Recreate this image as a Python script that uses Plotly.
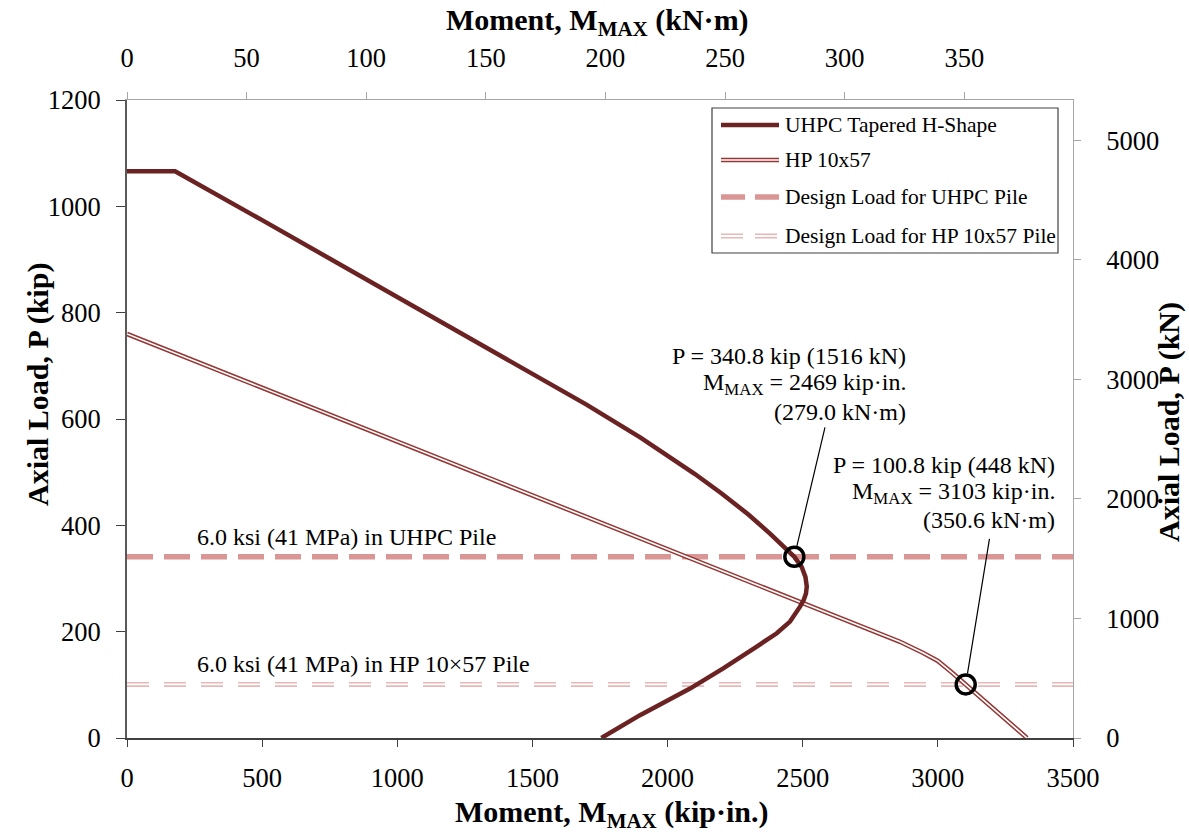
import plotly.graph_objects as go

# ---------------- data ----------------
KIPIN_TO_KNM = 0.1129848
KIP_TO_KN = 4.448222

uhpc_M = [0, 178, 500, 1000, 1500, 1700, 1900, 2000, 2100, 2200, 2300, 2380, 2430, 2469, 2496, 2510, 2515, 2512, 2504, 2490, 2453, 2404, 2330, 2206, 2083, 1898, 1755]
uhpc_P = [1066, 1066, 974, 830, 685, 627, 565, 532, 497, 460, 420, 384, 360, 340.8, 322, 303, 285, 272, 260, 247, 219, 197, 172, 131, 93, 43, 0]

hp_M = [0, 2860, 2946, 3000, 3050, 3103, 3230, 3330]
hp_P = [760, 181, 160, 145, 124, 100.8, 44, 0]

design_x = [0, 3500]
design_uhpc = 340.8
design_hp = 100.8

pts_M = [2469, 3103]
pts_P = [340.8, 100.8]

x_ticks = [0, 500, 1000, 1500, 2000, 2500, 3000, 3500]
y_ticks = [0, 200, 400, 600, 800, 1000, 1200]
x2_ticks = [0, 50, 100, 150, 200, 250, 300, 350]
y2_ticks = [0, 1000, 2000, 3000, 4000, 5000]

legend_names = ["UHPC Tapered H-Shape", "HP 10x57", "Design Load for UHPC Pile", "Design Load for HP 10x57 Pile"]
callout1 = ["P = 340.8 kip (1516 kN)", "M<sub>MAX</sub> = 2469 kip·in.", "(279.0 kN·m)"]
callout2 = ["P = 100.8 kip (448 kN)", "M<sub>MAX</sub> = 3103 kip·in.", "(350.6 kN·m)"]

# ---------------- styles ----------------
FONT = "Liberation Serif, Times New Roman, serif"
C_UHPC = "#6B2222"
C_HP = "#953735"
C_DU = "#D99694"
C_DH = "#E6B9B8"

W, H = 1189, 834
L, R, T, B = 127, 116, 100, 96
PW, PH = W - L - R, H - T - B


def px(xp):
    return (xp - L) / PW


def py(yp):
    return (H - B - yp) / PH


fig = go.Figure()

# design load lines
fig.add_trace(go.Scatter(x=design_x, y=[design_hp] * 2, mode="lines",
                         line=dict(color=C_DH, width=5, dash="22px,15px"), hoverinfo="skip", showlegend=False))
fig.add_trace(go.Scatter(x=design_x, y=[design_hp] * 2, mode="lines",
                         line=dict(color="white", width=1.8, dash="22px,15px"), hoverinfo="skip", showlegend=False))
fig.add_trace(go.Scatter(x=design_x, y=[design_uhpc] * 2, mode="lines",
                         line=dict(color=C_DU, width=5.5, dash="26px,11px"), showlegend=False))

# HP 10x57 double line
fig.add_trace(go.Scatter(x=hp_M, y=hp_P, mode="lines",
                         line=dict(color=C_HP, width=4.6), showlegend=False))
fig.add_trace(go.Scatter(x=hp_M, y=hp_P, mode="lines",
                         line=dict(color="white", width=1.6), hoverinfo="skip", showlegend=False))

# UHPC curve
fig.add_trace(go.Scatter(x=uhpc_M, y=uhpc_P, mode="lines",
                         line=dict(color=C_UHPC, width=4.5), showlegend=False))

# marked points
fig.add_trace(go.Scatter(x=pts_M, y=pts_P, mode="markers",
                         marker=dict(symbol="circle-open", size=19, color="black", line=dict(width=3.5, color="black")),
                         showlegend=False))

# hidden trace for the SI axes
fig.add_trace(go.Scatter(x=[0, 3500 * KIPIN_TO_KNM], y=[0, 1200 * KIP_TO_KN], xaxis="x2", yaxis="y2",
                         mode="markers", marker=dict(opacity=0), hoverinfo="skip", showlegend=False))

tickfont = dict(family=FONT, size=26.5, color="black")

fig.update_layout(
    width=W, height=H,
    margin=dict(l=L, r=R, t=T, b=B),
    paper_bgcolor="white", plot_bgcolor="white",
    showlegend=False,
    xaxis=dict(range=[0, 3500], tickvals=x_ticks, showgrid=False, zeroline=False,
               showline=True, linecolor="#404040", linewidth=1.5, ticks="outside", ticklen=7,
               tickcolor="#404040", tickfont=tickfont, ticklabelstandoff=8),
    yaxis=dict(range=[0, 1200], tickvals=y_ticks, showgrid=False, zeroline=False,
               showline=True, linecolor="#595959", linewidth=2, ticks="outside", ticklen=9,
               tickcolor="#404040", tickfont=tickfont, ticklabelstandoff=10),
    xaxis2=dict(range=[0, 3500 * KIPIN_TO_KNM], tickvals=x2_ticks, overlaying="x", side="top", anchor="y",
                showgrid=False, zeroline=False, showline=True, linecolor="#A6A6A6", linewidth=1,
                ticks="outside", ticklen=7, tickcolor="#A6A6A6", tickfont=tickfont, ticklabelstandoff=14),
    yaxis2=dict(range=[0, 1200 * KIP_TO_KN], tickvals=y2_ticks, overlaying="y", side="right", anchor="x",
                showgrid=False, zeroline=False, showline=True, linecolor="#A6A6A6", linewidth=1,
                ticks="outside", ticklen=7, tickcolor="#A6A6A6", tickfont=tickfont,
                ticklabelposition="outside", ticklabelstandoff=20, automargin=False),
)

ann = []
titlefont = dict(family=FONT, size=30, color="black")
ann.append(dict(xref="paper", yref="paper", x=px(612), y=py(814), text="<b>Moment, M<sub>MAX</sub> (kip·in.)</b>",
                showarrow=False, font=titlefont, xanchor="center", yanchor="middle"))
ann.append(dict(xref="paper", yref="paper", x=px(597), y=py(22), text="<b>Moment, M<sub>MAX</sub> (kN·m)</b>",
                showarrow=False, font=titlefont, xanchor="center", yanchor="middle"))
ann.append(dict(xref="paper", yref="paper", x=px(38), y=py(385), text="<b>Axial Load, P (kip)</b>",
                showarrow=False, font=titlefont, textangle=-90, xanchor="center", yanchor="middle"))
ann.append(dict(xref="paper", yref="paper", x=px(1169), y=py(422), text="<b>Axial Load, P (kN)</b>",
                showarrow=False, font=titlefont, textangle=-90, xanchor="center", yanchor="middle"))

afont = dict(family=FONT, size=24, color="black")
# callout texts, one line each
for txt, yy in zip(callout1, [356, 384, 412]):
    ann.append(dict(xref="paper", yref="paper", x=px(908), y=py(yy), xanchor="right", yanchor="middle",
                    text=txt, showarrow=False, font=afont))
for txt, yy in zip(callout2, [465, 493, 520]):
    ann.append(dict(xref="paper", yref="paper", x=px(1057), y=py(yy), xanchor="right", yanchor="middle",
                    text=txt, showarrow=False, font=afont))
# leader lines
ann.append(dict(x=pts_M[0], y=pts_P[0], xref="x", yref="y", text="", showarrow=True, arrowhead=0,
                arrowwidth=1.2, arrowcolor="black", ax=31, ay=-131, standoff=11))
ann.append(dict(x=pts_M[1], y=pts_P[1], xref="x", yref="y", text="", showarrow=True, arrowhead=0,
                arrowwidth=1.2, arrowcolor="black", ax=24, ay=-147, standoff=11))
# design load labels
ann.append(dict(xref="paper", yref="paper", x=px(195), y=py(537), xanchor="left", yanchor="middle",
                text="6.0 ksi (41 MPa) in UHPC Pile", showarrow=False, font=afont))
ann.append(dict(xref="paper", yref="paper", x=px(195), y=py(664), xanchor="left", yanchor="middle",
                text="6.0 ksi (41 MPa) in HP 10×57 Pile", showarrow=False, font=afont))

# custom legend
lfont = dict(family=FONT, size=21.5, color="black")
shapes = []
shapes.append(dict(type="rect", xref="paper", yref="paper", x0=px(712), x1=px(1058), y0=py(253), y1=py(108),
                   line=dict(color="#404040", width=1.2), fillcolor="white", layer="above"))
rows = [125, 160, 197, 236]
lx0, lx1 = px(721), px(779)
shapes.append(dict(type="line", xref="paper", yref="paper", x0=lx0, x1=lx1, y0=py(rows[0]), y1=py(rows[0]),
                   line=dict(color=C_UHPC, width=4.5), layer="above"))
shapes.append(dict(type="line", xref="paper", yref="paper", x0=lx0, x1=lx1, y0=py(rows[1]), y1=py(rows[1]),
                   line=dict(color=C_HP, width=4.6), layer="above"))
shapes.append(dict(type="line", xref="paper", yref="paper", x0=lx0, x1=lx1, y0=py(rows[1]), y1=py(rows[1]),
                   line=dict(color="white", width=1.6), layer="above"))
shapes.append(dict(type="line", xref="paper", yref="paper", x0=lx0, x1=lx1, y0=py(rows[2]), y1=py(rows[2]),
                   line=dict(color=C_DU, width=5.5, dash="24px,10px"), layer="above"))
shapes.append(dict(type="line", xref="paper", yref="paper", x0=lx0, x1=lx1, y0=py(rows[3]), y1=py(rows[3]),
                   line=dict(color=C_DH, width=5, dash="22px,12px"), layer="above"))
shapes.append(dict(type="line", xref="paper", yref="paper", x0=lx0, x1=lx1, y0=py(rows[3]), y1=py(rows[3]),
                   line=dict(color="white", width=1.8, dash="22px,12px"), layer="above"))
for name, r in zip(legend_names, rows):
    ann.append(dict(xref="paper", yref="paper", x=px(783), y=py(r), xanchor="left", yanchor="middle",
                    text=name, showarrow=False, font=lfont))

fig.update_layout(annotations=ann, shapes=shapes)

fig.write_html("out.html", config={"displayModeBar": False},
               post_script="document.body.style.margin='0';")
